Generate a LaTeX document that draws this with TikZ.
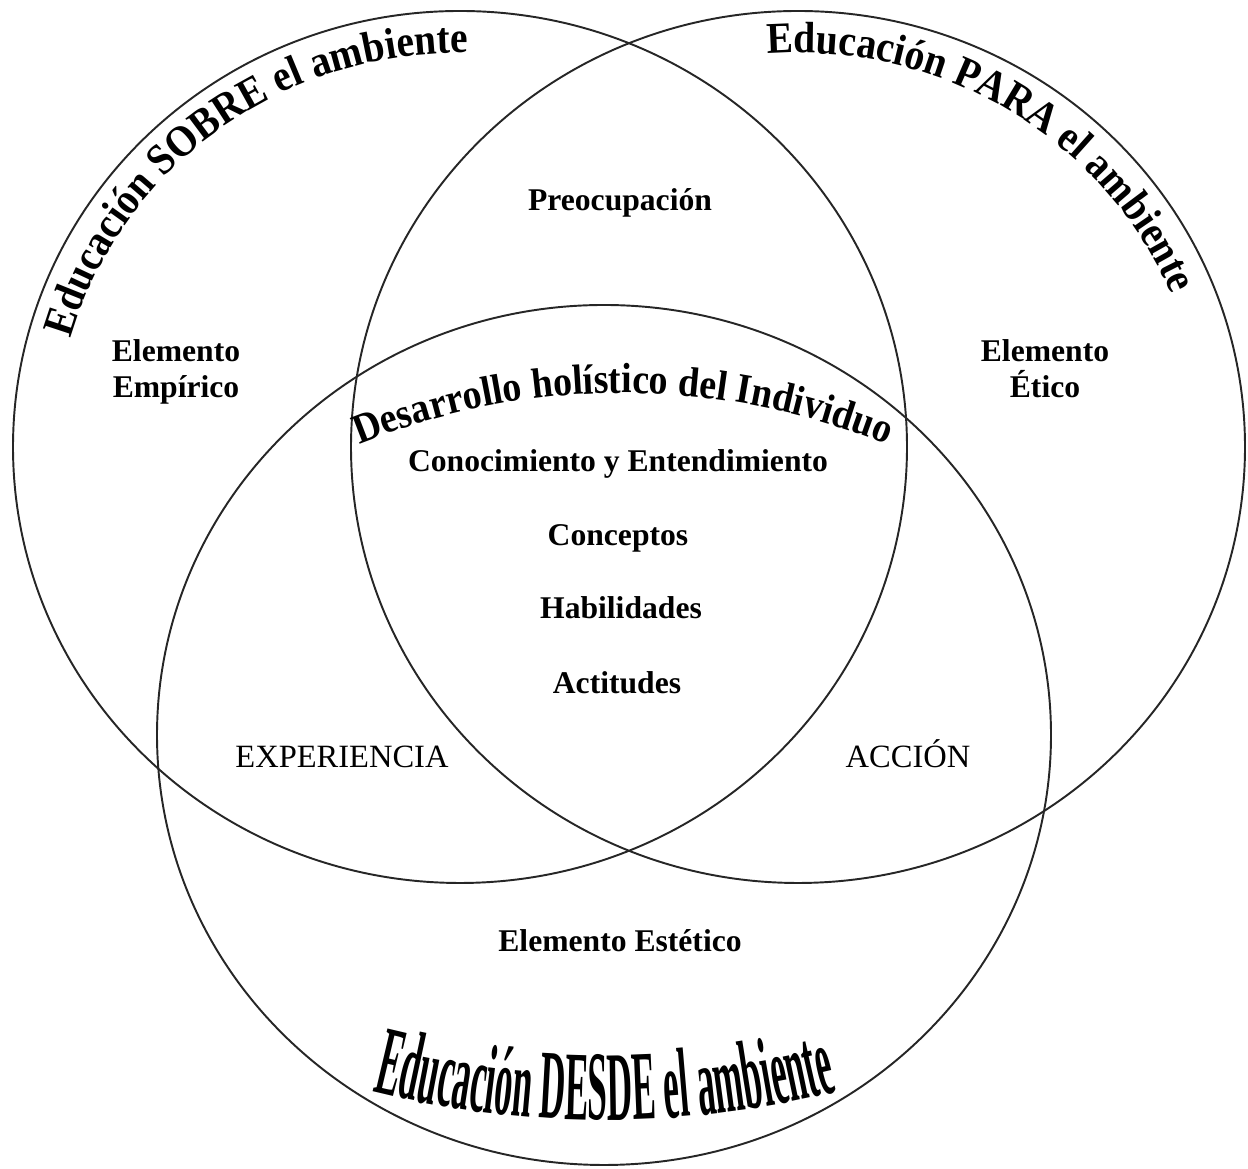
\documentclass[tikz,border=0pt]{standalone}
\usepackage{fontspec}
\setmainfont{Liberation Serif}
\newfontfamily\archfont[FakeStretch=0.9]{Liberation Serif}
\newfontfamily\squeezefont[FakeStretch=0.36]{Liberation Serif}
\usetikzlibrary{decorations.text}

\begin{document}
\begin{tikzpicture}[x=0.02cm, y=0.02cm,
    ring/.style={draw=black!85, line width=1.1pt},
    itemtext/.style={font=\bfseries\fontsize{18pt}{21pt}\selectfont, anchor=base, inner sep=0pt, align=center},
    capstext/.style={font=\fontsize{18.5pt}{21pt}\selectfont, anchor=base, inner sep=0pt},
    arctext/.style={decorate, decoration={text along path, text align=center, text={#1}}}
]
\useasboundingbox (0,0) rectangle (1248,1169);

\draw[ring] (460,722) ellipse [x radius=447, y radius=436];
\draw[ring] (798,722) ellipse [x radius=447, y radius=436];
\draw[ring] (604,434) ellipse [x radius=447, y radius=430];

\path[arctext={|\archfont\bfseries\fontsize{25pt}{30pt}\selectfont|Educación SOBRE el ambiente}]
    (460,722) ++(165:405 and 394) arc[start angle=165, end angle=88, x radius=405, y radius=394];
\path[arctext={|\archfont\bfseries\fontsize{25pt}{30pt}\selectfont|Educación PARA el ambiente}]
    (798,722) ++(98:405 and 394) arc[start angle=98, end angle=19, x radius=405, y radius=394];
\path[arctext={|\archfont\bfseries\fontsize{24pt}{28pt}\selectfont|Desarrollo holístico del Individuo}]
    (623,76) ++(114:700) arc[start angle=114, end angle=66, radius=700];
\path[arctext={|\squeezefont\bfseries\fontsize{56pt}{60pt}\selectfont|Educación DESDE el ambiente}]
    (605,1008) ++(250:959) arc[start angle=250, end angle=290, radius=959];

\node[itemtext] (preo) at (620,958) {Preocupación};
\node[itemtext] (empirico) at (176,771) {Elemento\\Empírico};
\node[itemtext] (etico) at (1045,771) {Elemento\\Ético};
\node[itemtext] (conoc) at (618,697) {Conocimiento y Entendimiento};
\node[itemtext] (concep) at (618,623) {Conceptos};
\node[itemtext] (habil) at (621,550) {Habilidades};
\node[itemtext] (actit) at (617,475) {Actitudes};
\node[capstext] (exper) at (342,401) {EXPERIENCIA};
\node[capstext] (accion) at (908,401) {ACCIÓN};
\node[itemtext] (estetico) at (620,217) {Elemento Estético};

\end{tikzpicture}
\end{document}
